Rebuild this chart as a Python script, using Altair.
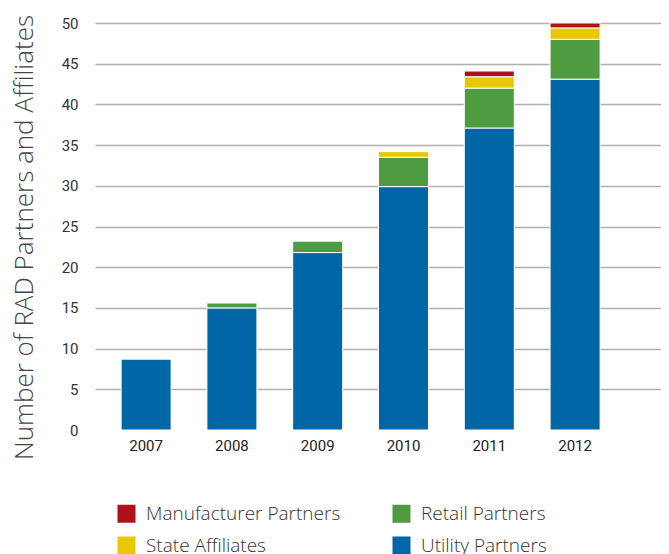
import altair as alt
import pandas as pd

years = ["2007", "2008", "2009", "2010", "2011", "2012"]
utility = [8.7, 15.0, 21.8, 29.9, 37.1, 43.1]
retail = [0.0, 0.6, 1.4, 3.6, 4.9, 4.9]
state = [0.0, 0.0, 0.0, 0.7, 1.4, 1.4]
manufacturer = [0.0, 0.0, 0.0, 0.0, 0.7, 0.6]

series = ["Manufacturer Partners", "Retail Partners", "State Affiliates", "Utility Partners"]
colors = ["#b0101a", "#4f9b3f", "#eac800", "#0066a6"]
stack_rank = {"Utility Partners": 0, "Retail Partners": 1, "State Affiliates": 2, "Manufacturer Partners": 3}
y_ticks = [0, 5, 10, 15, 20, 25, 30, 35, 40, 45, 50]

rows = []
for i, yr in enumerate(years):
    for name, vals in [("Utility Partners", utility), ("Retail Partners", retail),
                       ("State Affiliates", state), ("Manufacturer Partners", manufacturer)]:
        if vals[i] > 0:
            rows.append({"year": yr, "series": name, "value": vals[i], "rank": stack_rank[name]})
df = pd.DataFrame(rows)

chart = alt.Chart(df).mark_bar(stroke="white", strokeWidth=1).encode(
    x=alt.X("year:N", title=None,
            scale=alt.Scale(paddingInner=0.417, paddingOuter=0.507, align=0.3),
            axis=alt.Axis(labelAngle=0, ticks=False, domain=False, grid=False,
                          labelFontSize=15, labelColor="#222", labelFont="Roboto",
                          labelPadding=8)),
    y=alt.Y("value:Q", title="Number of RAD Partners and Affiliates", stack="zero",
            scale=alt.Scale(domain=[0, 50], nice=False),
            axis=alt.Axis(values=y_ticks, ticks=False, domain=False, grid=True,
                          gridColor="#b0b0b0", gridWidth=1.6,
                          gridOpacity=alt.condition("datum.value === 0", alt.value(0), alt.value(1)),
                          labelFontSize=15, labelColor="#333", labelFont="Roboto",
                          labelPadding=17, titleFontSize=26, titleFont="Open Sans",
                          titleFontWeight=300, titleColor="#444", titlePadding=24,
                          titleY=214)),
    color=alt.Color("series:N", scale=alt.Scale(domain=series, range=colors),
                    legend=alt.Legend(title=None, orient="none", legendX=22, legendY=481,
                                      direction="horizontal",
                                      columns=2, columnPadding=51, rowPadding=12,
                                      symbolType="square", symbolSize=324,
                                      symbolStrokeWidth=0, labelFontSize=19,
                                      labelFont="Open Sans", labelFontWeight=300,
                                      labelColor="#333", labelOffset=10, labelLimit=400,
                                      padding=0)),
    order=alt.Order("rank:Q", sort="ascending"),
).properties(
    width=566, height=407,
    autosize=alt.AutoSizeParams(type="none"),
    padding={"left": 87, "top": 15, "right": 0, "bottom": 124},
).configure_view(stroke=None)

chart.save("out.html", embed_options={"renderer": "svg", "actions": False})
